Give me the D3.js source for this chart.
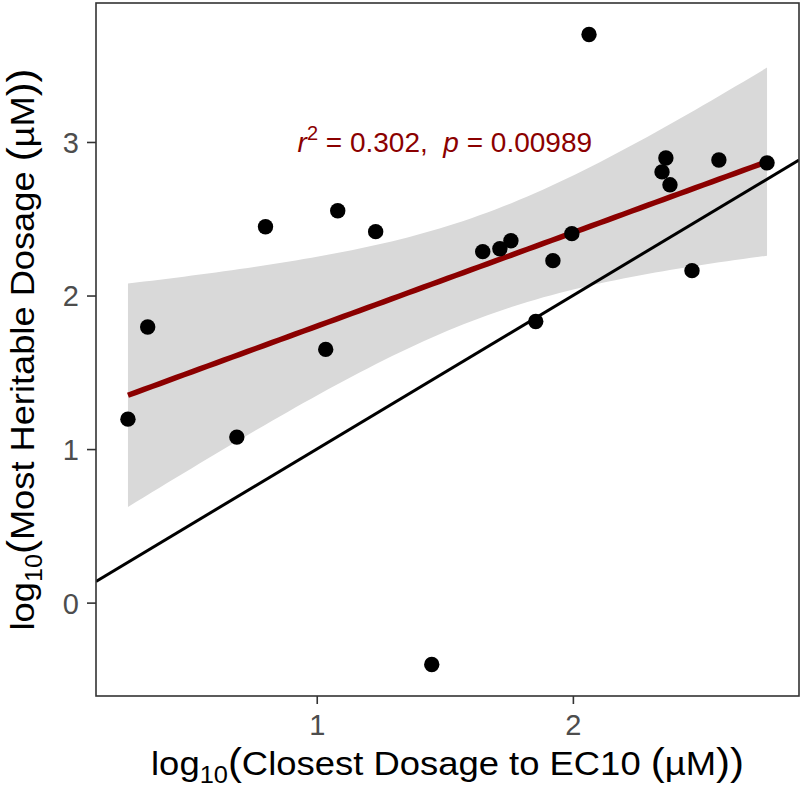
<!DOCTYPE html>
<html>
<head>
<meta charset="utf-8">
<script src="https://cdn.jsdelivr.net/npm/d3@7"></script>
<style>
  html, body { margin: 0; padding: 0; background: #fff; }
  svg { display: block; font-family: "Liberation Sans", Arial, sans-serif; }
</style>
</head>
<body>
<svg id="viz" width="803" height="794"></svg>
<script>
// closest dosage to EC10 (log10 µM) vs most heritable dosage (log10 µM)
const xVals = [0.263, 0.340, 0.688, 0.800, 1.035, 1.082, 1.230, 1.449, 1.648, 1.715, 1.758,
               1.855, 1.922, 1.996, 2.063, 2.348, 2.363, 2.379, 2.465, 2.570, 2.758];
const yVals = [1.195, 1.795, 1.078, 2.448, 1.649, 2.552, 2.416, -0.403, 2.286, 2.305, 2.357,
               1.831, 2.227, 2.403, 3.700, 2.805, 2.896, 2.721, 2.162, 2.883, 2.864];
const xTicks = [1, 2];
const yTicks = [0, 1, 2, 3];
const statText = ["0.302", "0.00989"];   // r², p
const statPos = [1.5, 3];                 // where the label sits, data units
const T_975 = 2.093;                      // qt(0.975, df = 19)

const svg = d3.select("#viz");
const margin = { top: 3, right: 4, bottom: 98, left: 96 };
const W = 803 - margin.left - margin.right;
const H = 794 - margin.top - margin.bottom;
const g = svg.append("g").attr("transform", `translate(${margin.left},${margin.top})`);

// ggplot-style 5% expansion
function expand([a, b]) { const d = (b - a) * 0.05; return [a - d, b + d]; }
const x = d3.scaleLinear().domain(expand(d3.extent(xVals))).range([0, W]);
const y = d3.scaleLinear().domain(expand(d3.extent(yVals))).range([H, 0]);

// --- lm fit + 95% CI ---
const n = xVals.length;
const mx = d3.mean(xVals), my = d3.mean(yVals);
let sxx = 0, sxy = 0;
xVals.forEach((v, i) => { sxx += (v - mx) ** 2; sxy += (v - mx) * (yVals[i] - my); });
const b1 = sxy / sxx, b0 = my - b1 * mx;
const sse = d3.sum(xVals, (v, i) => (yVals[i] - b0 - b1 * v) ** 2);
const s = Math.sqrt(sse / (n - 2));
const [xmin, xmax] = d3.extent(xVals);
const fit = d3.range(0, 81).map(i => {
  const xv = xmin + (xmax - xmin) * i / 80;
  const yhat = b0 + b1 * xv;
  const se = s * Math.sqrt(1 / n + (xv - mx) ** 2 / sxx);
  return { x: xv, y: yhat, lo: yhat - T_975 * se, hi: yhat + T_975 * se };
});

const clipId = "panel-clip";
g.append("clipPath").attr("id", clipId).append("rect").attr("width", W).attr("height", H);
const panel = g.append("g").attr("clip-path", `url(#${clipId})`);

panel.append("path")
  .datum(fit)
  .attr("fill", "#d9d9d9")
  .attr("d", d3.area().x(d => x(d.x)).y0(d => y(d.lo)).y1(d => y(d.hi)));

// y = x reference
const [dx0, dx1] = x.domain();
panel.append("line")
  .attr("x1", x(dx0)).attr("y1", y(dx0))
  .attr("x2", x(dx1)).attr("y2", y(dx1))
  .attr("stroke", "#000").attr("stroke-width", 3);

panel.append("path")
  .datum(fit)
  .attr("fill", "none")
  .attr("stroke", "#8b0000")
  .attr("stroke-width", 5.5)
  .attr("d", d3.line().x(d => x(d.x)).y(d => y(d.y)));

panel.selectAll("circle.pt")
  .data(xVals.map((v, i) => [v, yVals[i]]))
  .join("circle")
  .attr("class", "pt")
  .attr("cx", d => x(d[0])).attr("cy", d => y(d[1]))
  .attr("r", 7.7).attr("fill", "#000");

// stat label
const lab = g.append("text")
  .attr("x", x(statPos[0])).attr("y", y(statPos[1]) + 10)
  .attr("text-anchor", "middle")
  .attr("fill", "#8b0000")
  .attr("font-size", 28);
lab.append("tspan").attr("font-style", "italic").text("r");
lab.append("tspan").attr("font-size", 20).attr("dy", -12).text("2");
lab.append("tspan").attr("dy", 12).text(" = " + statText[0] + ",\u00a0\u00a0");
lab.append("tspan").attr("font-style", "italic").text("p");
lab.append("tspan").text(" = " + statText[1]);

// panel border
g.append("rect").attr("width", W).attr("height", H)
  .attr("fill", "none").attr("stroke", "#333").attr("stroke-width", 1.6);

// axes
const xAxis = g.append("g").attr("transform", `translate(0,${H})`)
  .call(d3.axisBottom(x).tickValues(xTicks).tickFormat(d3.format("d")).tickSize(8).tickPadding(8));
const yAxis = g.append("g")
  .call(d3.axisLeft(y).tickValues(yTicks).tickFormat(d3.format("d")).tickSize(9).tickPadding(8));
[xAxis, yAxis].forEach(a => {
  a.select(".domain").remove();
  a.selectAll(".tick line").attr("stroke", "#333").attr("stroke-width", 1.6);
  a.selectAll(".tick text").attr("fill", "#4d4d4d").attr("font-size", 29)
    .attr("font-family", "'Liberation Sans', Arial, sans-serif");
});
xAxis.selectAll(".tick text").attr("dy", "0.8em");
yAxis.selectAll(".tick text").attr("dy", "0.36em");

// axis titles with log10 subscript, stretched a little along their length
function title(cx, cy, angle, body, len) {
  const wrap = g.append("g");
  const t = wrap.append("text").attr("font-size", 33).attr("fill", "#000").attr("text-anchor", "middle");
  t.append("tspan").text("log");
  t.append("tspan").attr("font-size", 23).attr("dy", 8).text("10");
  t.append("tspan").attr("dy", -8).attr("font-size", 38).text("(");
  t.append("tspan").text(body + " ");
  t.append("tspan").attr("font-size", 38).text("(");
  t.append("tspan").text("µM");
  t.append("tspan").attr("font-size", 38).text("))");
  const w = t.node().getBBox().width;
  wrap.attr("transform", `translate(${cx},${cy}) rotate(${angle}) scale(${len / w},1)`);
}
title(W / 2, H + 79, 0, "Closest Dosage to EC10", 593);
title(-62, H / 2, -90, "Most Heritable Dosage", 562);
</script>
</body>
</html>
